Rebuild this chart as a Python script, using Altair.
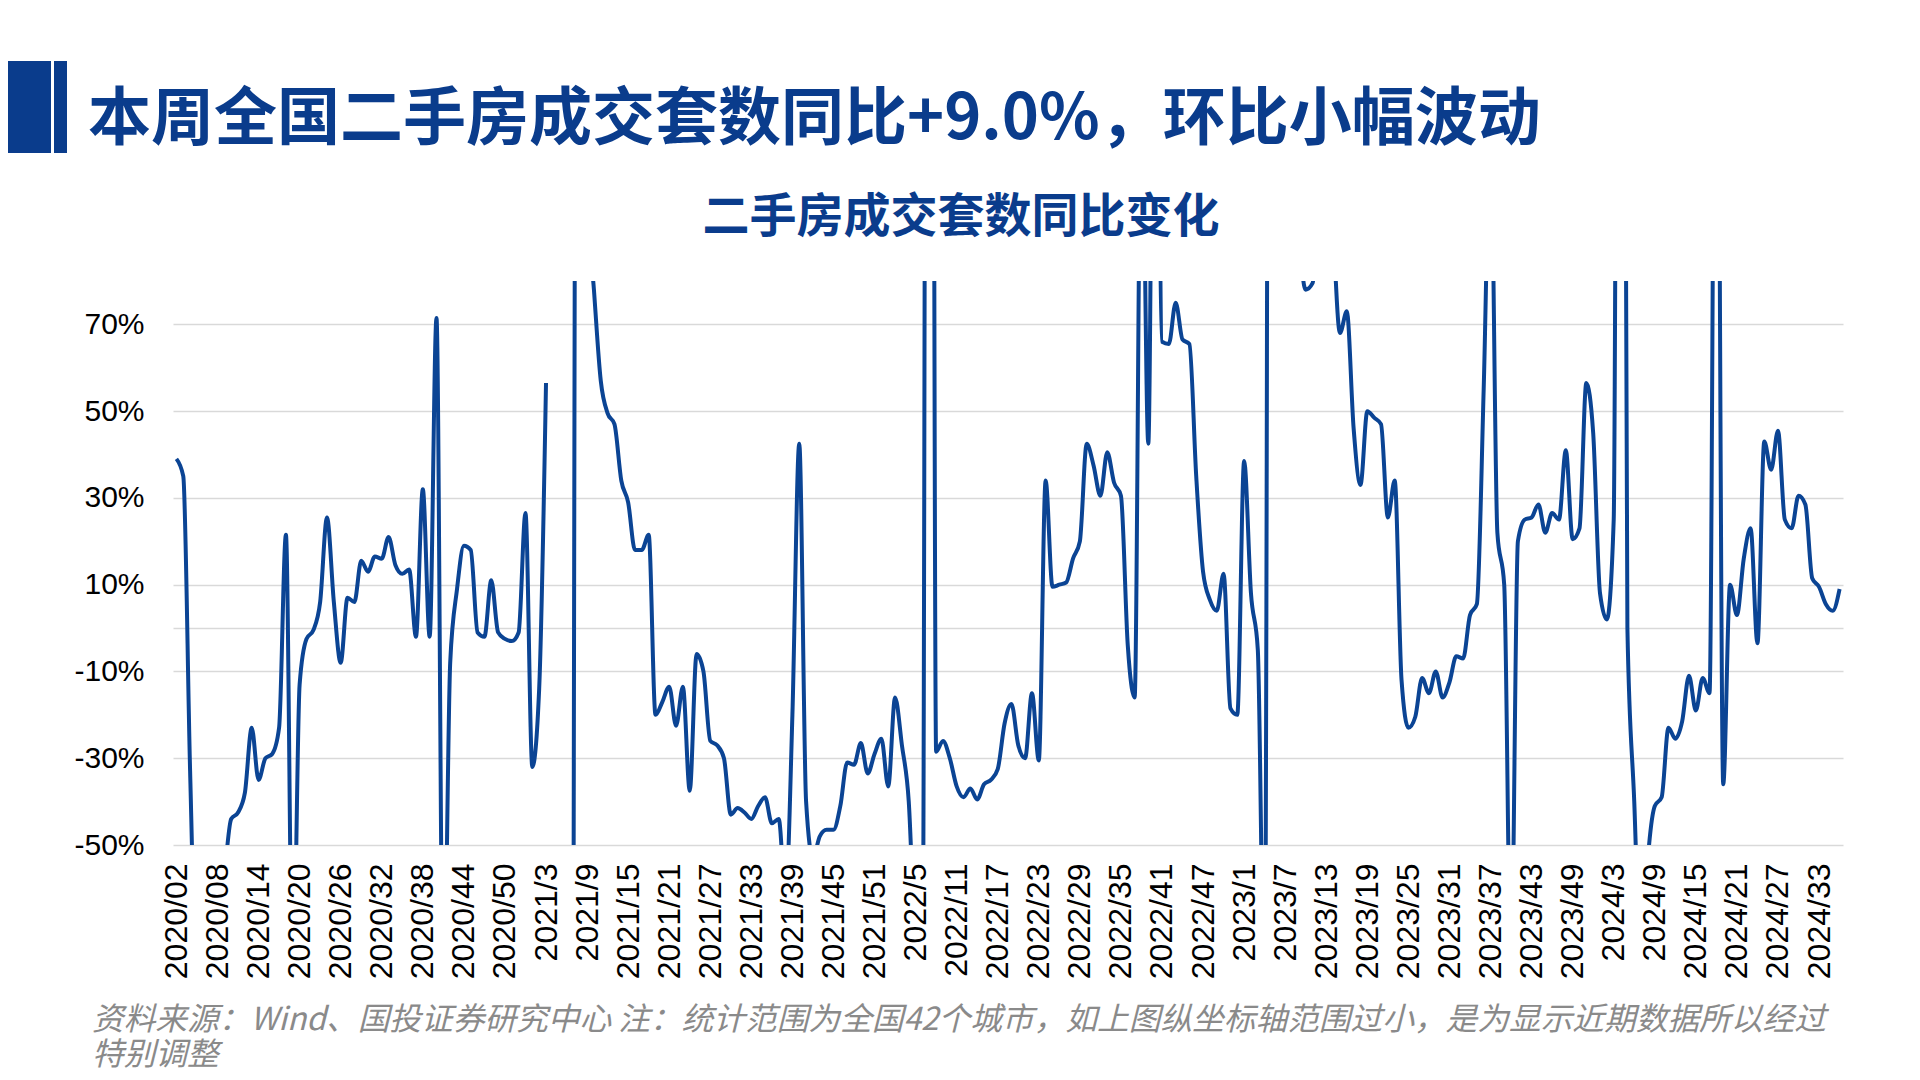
import altair as alt
import pandas as pd

# ---- data (YoY % change of second-hand housing transactions, weekly) ----
yoy_2020 = [39, 35, -33, -85, -90, -88, -80, -58, -44, -42.5, -38, -23, -35, -30, -29, -23,
            21.5, -85, -13, -2.5, -0.5, 6, 25.5, 6, -8, 7, 6, 15.5, 13, 16.5, 16, 21, 14.5,
            12.5, 13.5, -2, 32, -2, 71.5, -90, -8, 9, 19, 18, -1, -2, 11, -1, -2.5, -3, -1, 26.5]
yoy_2021 = [-32, -14, 56.5, None, None, None, -85, 500, 100, 78, 57, 49.5, 47, 34, 29, 18, 18,
            21.5, -20, -17, -13.5, -22.5, -13.5, -37.5, -6, -10, -26, -27, -30, -43, -41.5,
            -42.5, -44, -41, -39, -45, -44, -62, -20, 42.5, -40, -53, -48, -46.5, -46.5, -41,
            -31, -31.5, -26.5, -33.5, -29, -25.5]
yoy_2022 = [-36.5, -16, -27, -40, -75, -85, 600, -28.5, -26, -30, -36.5, -39, -37, -39.5, -36,
            -35, -32.5, -22, -17.5, -27, -30, -15, -30.5, 34, 9.5, 10, 10.5, 16, 20, 42.5, 37.5,
            30.5, 40.5, 33.5, 30.5, -4, -16, 130, 42.5, 200, 66, 65.5, 75, 66.5, 65.5, 35, 13,
            6.5, 4, 12.5, -18.5, -20]
yoy_2023 = [38.5, 8, -5, -90, 500, 400, 300, 200, 95, 78, 79.5, 100, 120, 92, 68, 73, 46, 33,
            50, 48.5, 47, 25.5, 34, -12, -23, -20.5, -11.5, -15, -10, -16, -12.5, -6.5, -7, 3,
            5.5, 55, 115, 22, 10, -80, 20, 25, 25.5, 28.5, 22, 26.5, 25, 41, 20.5, 23, 56.5, 45]
yoy_2024 = [8, 2, 25, 400, 0, -40, -80, -53, -41, -39, -23, -25.5, -21.5, -11, -19, -11.5, -15,
            200, -36, 10, 3, 16, 23, -3.5, 43, 36.5, 45.5, 25, 23, 30.5, 28.5, 11.5, 9.5, 5.5,
            4, 9]

weeks_2020 = [f"2020/{w:02d}" for w in range(2, 54)]
weeks_2021 = [f"2021/{w}" for w in range(1, 53)]
weeks_2022 = [f"2022/{w}" for w in range(1, 53)]
weeks_2023 = [f"2023/{w}" for w in range(1, 53)]
weeks_2024 = [f"2024/{w}" for w in range(1, 37)]

tick_labels = ["2020/02", "2020/08", "2020/14", "2020/20", "2020/26", "2020/32", "2020/38",
               "2020/44", "2020/50", "2021/3", "2021/9", "2021/15", "2021/21", "2021/27",
               "2021/33", "2021/39", "2021/45", "2021/51", "2022/5", "2022/11", "2022/17",
               "2022/23", "2022/29", "2022/35", "2022/41", "2022/47", "2023/1", "2023/7",
               "2023/13", "2023/19", "2023/25", "2023/31", "2023/37", "2023/43", "2023/49",
               "2024/3", "2024/9", "2024/15", "2024/21", "2024/27", "2024/33"]

y_ticks = [-50, -30, -10, 0, 10, 30, 50, 70]

HEADLINE = "本周全国二手房成交套数同比+9.0%，环比小幅波动"
SUBTITLE = "二手房成交套数同比变化"
FOOT1 = "资料来源：Wind、国投证券研究中心 注：统计范围为全国42个城市，如上图纵坐标轴范围过小，是为显示近期数据所以经过"
FOOT2 = "特别调整"

weeks = weeks_2020 + weeks_2021 + weeks_2022 + weeks_2023 + weeks_2024
values = yoy_2020 + yoy_2021 + yoy_2022 + yoy_2023 + yoy_2024

rows = []
seg = 0
for wk, v in zip(weeks, values):
    if v is None:
        seg += 1
        continue
    rows.append({"week": wk, "yoy": v, "seg": seg})
df = pd.DataFrame(rows)

BLUE = "#0B4494"
TITLE_BLUE = "#0A3C8C"
W, H = 1670, 564

line = alt.Chart(df).mark_line(
    clip=True, color=BLUE, strokeWidth=4, interpolate="monotone"
).encode(
    x=alt.X("week:O", sort=weeks,
            scale=alt.Scale(domain=weeks, type="point", padding=0.5),
            axis=alt.Axis(values=tick_labels, labelAngle=270, title=None, ticks=False,
                          domain=False, grid=False, labelFont="Liberation Sans",
                          labelFontSize=32, labelColor="#000000", labelPadding=18,
                          labelOverlap=False)),
    y=alt.Y("yoy:Q",
            scale=alt.Scale(domain=[-50, 80], nice=False, zero=False),
            axis=alt.Axis(values=y_ticks, title=None, ticks=False, domain=False,
                          grid=True, gridColor="#D9D9D9", gridWidth=1.5,
                          labelExpr="datum.value == 0 ? '' : datum.value + '%'",
                          labelFont="Liberation Sans", labelFontSize=30,
                          labelColor="#000000", labelPadding=29)),
    detail="seg:N",
)

def text_layer(txt, x, y, size, color, align="left", weight="normal", style="normal",
               font="Noto Sans CJK SC"):
    return alt.Chart(pd.DataFrame({"t": [txt]})).mark_text(
        align=align, baseline="middle", fontSize=size, color=color, font=font,
        fontWeight=weight, fontStyle=style
    ).encode(text="t:N", x=alt.value(x), y=alt.value(y))

rect_df = pd.DataFrame({"k": [0]})
rect1 = alt.Chart(rect_df).mark_rect(color=TITLE_BLUE).encode(
    x=alt.value(-165), x2=alt.value(-122), y=alt.value(-220), y2=alt.value(-128))
rect2 = alt.Chart(rect_df).mark_rect(color=TITLE_BLUE).encode(
    x=alt.value(-119), x2=alt.value(-106), y=alt.value(-220), y2=alt.value(-128))

headline = text_layer(HEADLINE, -85, -161, 63, TITLE_BLUE, weight="bold")
subtitle = text_layer(SUBTITLE, 788, -63, 47, TITLE_BLUE, align="center", weight="bold")
foot1 = text_layer(FOOT1, -81, 739, 31.7, "#8A8A8A", style="italic")
foot2 = text_layer(FOOT2, -81, 774, 31.7, "#8A8A8A", style="italic")

chart = alt.layer(line, rect1, rect2, headline, subtitle, foot1, foot2).properties(
    width=W, height=H, autosize="none",
    padding={"left": 165, "top": 273, "right": 60, "bottom": 227},
    background="white",
).configure_view(stroke=None)

chart.save("out.html", embed_options={"renderer": "svg", "actions": False})
